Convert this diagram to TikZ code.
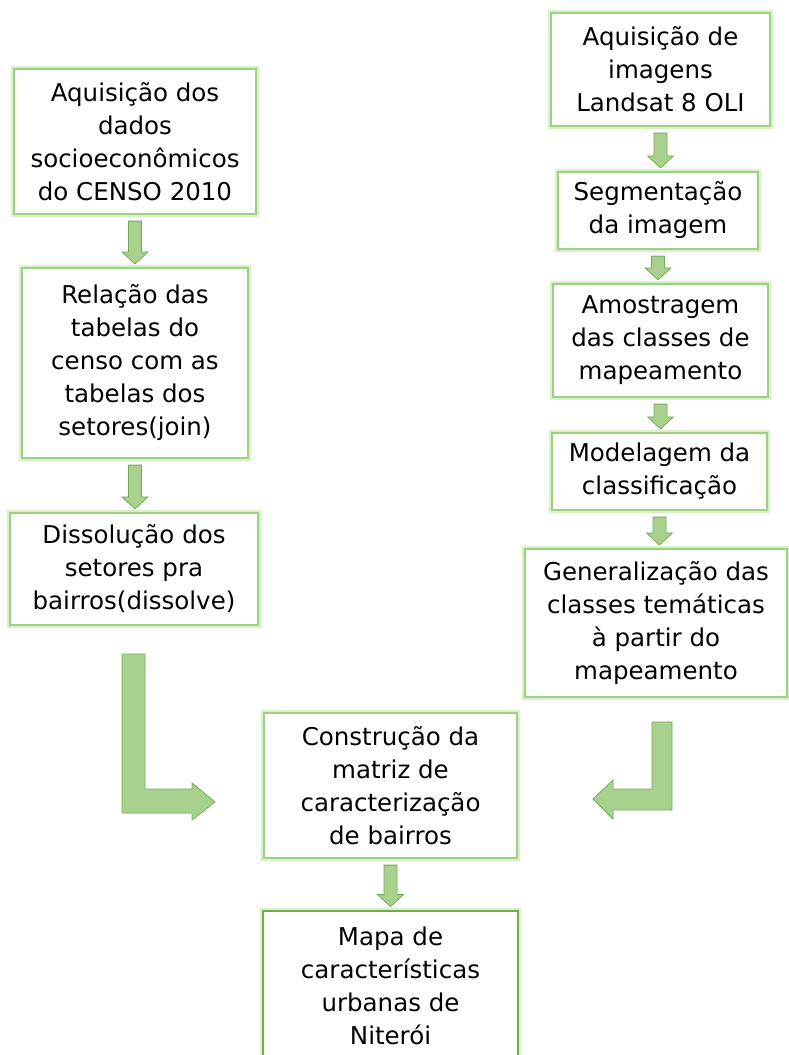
\documentclass[tikz,border=0pt]{standalone}
\usepackage{fontspec}
\setmainfont{DejaVu Sans}
\usetikzlibrary{calc}
\definecolor{boxline}{RGB}{155,211,125}
\definecolor{boxglow}{RGB}{218,240,205}
\definecolor{arrfill}{RGB}{169,209,142}
\definecolor{arrline}{RGB}{118,170,86}
\definecolor{darkline}{RGB}{112,173,71}
\newcommand\dnarrow[2]{\draw[blockarrow] let \p1=(#1.south), \p2=(#2.north) in
  (\x1-6.5pt,\y1-6pt) -- (\x1+6.5pt,\y1-6pt) -- (\x1+6.5pt,\y2+15pt) -- (\x1+13pt,\y2+15pt)
  -- (\x1,\y2+3pt) -- (\x1-13pt,\y2+15pt) -- (\x1-6.5pt,\y2+15pt) -- cycle;}
\begin{document}
\begin{tikzpicture}[x=1pt,y=-1pt,
  stepbox/.style={draw=boxline, line width=2.2pt, fill=white,
    preaction={draw=boxglow, line width=6pt}, inner sep=0pt, align=center,
    font=\fontsize{24.5}{33}\selectfont},
  finalbox/.style={stepbox, draw=darkline, line width=2.8pt},
  blockarrow/.style={fill=arrfill, draw=arrline, line width=0.8pt, line join=miter}]
\useasboundingbox (0,0) rectangle (789,1055);
\clip (0,0) rectangle (789,1055);
% left column
\node[stepbox, minimum width=242pt, minimum height=145pt] (L1) at (135,141.5)
  {Aquisição dos\\dados\\socioeconômicos\\do CENSO 2010};
\node[stepbox, minimum width=226pt, minimum height=190pt] (L2) at (135,363)
  {Relação das\\tabelas do\\censo com as\\tabelas dos\\setores(join)};
\node[stepbox, minimum width=248pt, minimum height=112pt] (L3) at (134,569)
  {Dissolução dos\\setores pra\\bairros(dissolve)};
% right column
\node[stepbox, minimum width=219pt, minimum height=113pt] (R1) at (660.5,69.5)
  {Aquisição de\\imagens\\Landsat 8 OLI};
\node[stepbox, minimum width=200pt, minimum height=77pt] (R2) at (658,210.5)
  {Segmentação\\da imagem};
\node[stepbox, minimum width=215pt, minimum height=113pt] (R3) at (660.5,340.5)
  {Amostragem\\das classes de\\mapeamento};
\node[stepbox, minimum width=215pt, minimum height=77pt] (R4) at (659.5,471.5)
  {Modelagem da\\classificação};
\node[stepbox, minimum width=262pt, minimum height=148pt] (R5) at (656,623)
  {Generalização das\\classes temáticas\\à partir do\\mapeamento};
% center
\node[stepbox, minimum width=253pt, minimum height=145pt] (C1) at (390.5,785.5)
  {Construção da\\matriz de\\caracterização\\de bairros};
\node[finalbox, minimum width=255pt, minimum height=150pt] (C2) at (390.5,986)
  {Mapa de\\características\\urbanas de\\Niterói};
% small arrows
\dnarrow{L1}{L2}
\dnarrow{L2}{L3}
\dnarrow{R1}{R2}
\dnarrow{R2}{R3}
\dnarrow{R3}{R4}
\dnarrow{R4}{R5}
\dnarrow{C1}{C2}
% bent arrows
\coordinate (lbend) at (122,654);
\coordinate (rbend) at (652,722);
\draw[blockarrow] (lbend) -- ++(23,0) -- ++(0,135) -- ++(47,0) -- ++(0,-6) -- ++(23,19)
  -- ++(-23,18) -- ++(0,-7) -- ++(-70,0) -- cycle;
\draw[blockarrow] (rbend) -- ++(20,0) -- ++(0,88) -- ++(-59,0) -- ++(0,9) -- ++(-20,-20)
  -- ++(20,-19) -- ++(0,9) -- ++(39,0) -- cycle;
\end{tikzpicture}
\end{document}
